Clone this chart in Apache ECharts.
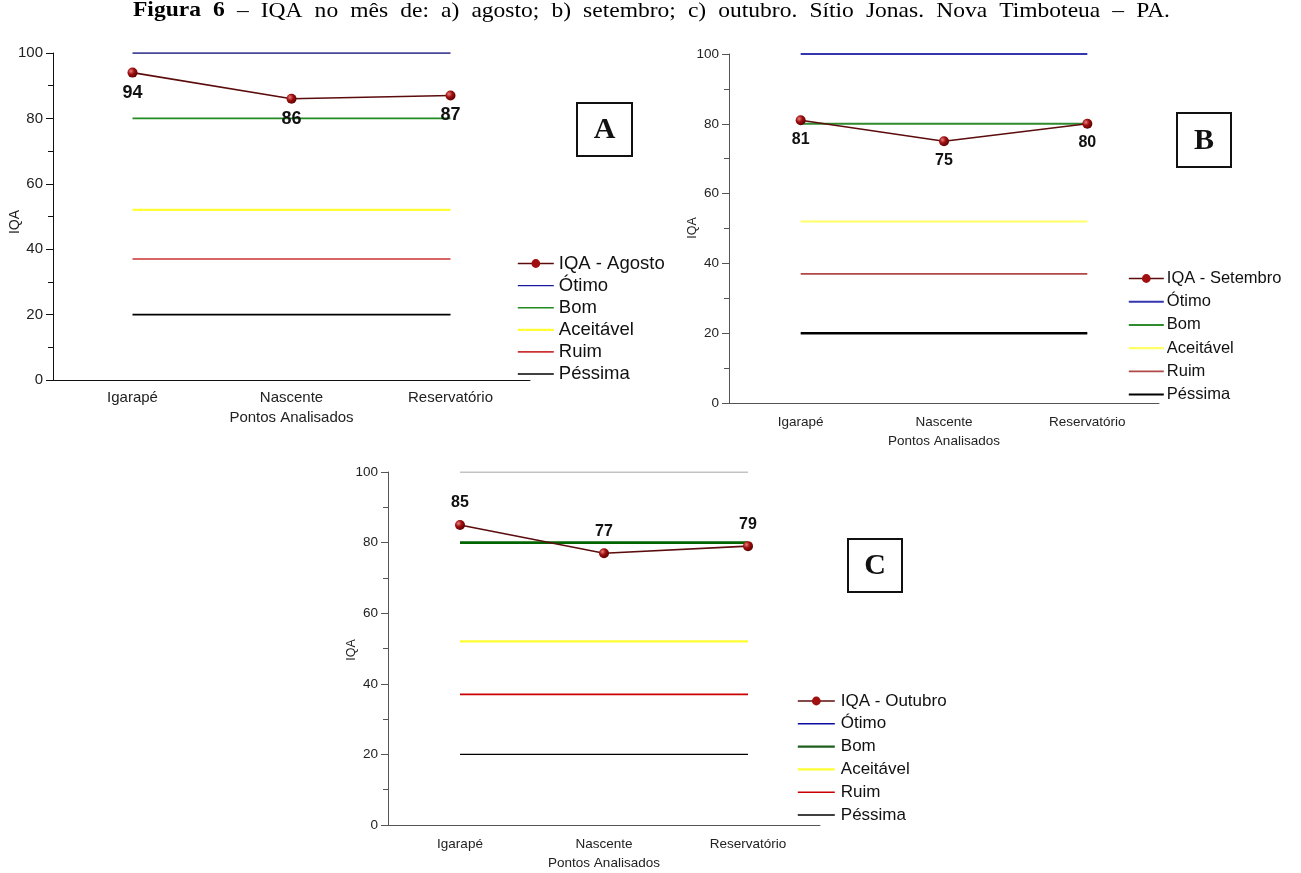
<!DOCTYPE html>
<html>
<head>
<meta charset="utf-8">
<script src="https://cdn.jsdelivr.net/npm/echarts@6/dist/echarts.min.js"></script>
<style>html,body{margin:0;padding:0;background:#fff}#c{width:1301px;height:873px}</style>
</head>
<body>
<div id="c"></div>
<script>
// ---- data ----
const categories = ['Igarapé', 'Nascente', 'Reservatório'];
const iqaAgosto = [94, 86, 87];
const iqaSetembro = [81, 75, 80];
const iqaOutubro = [85, 77, 79];
const classNames = ['Ótimo', 'Bom', 'Aceitável', 'Ruim', 'Péssima'];
const classLimits = [100, 80, 52, 37, 20];
const seriesNames = ['IQA - Agosto', 'IQA - Setembro', 'IQA - Outubro'];
const panelLetters = ['A', 'B', 'C'];
const yTicks = [0, 20, 40, 60, 80, 100];
const titleBold = 'Figura 6';
const titleRest = '– IQA no mês de: a) agosto; b) setembro; c) outubro. Sítio Jonas. Nova Timboteua – PA.';

// ---- styling per panel ----
const SANS = 'Liberation Sans, Arial, sans-serif';
const SERIF = 'Liberation Serif, Times New Roman, serif';
const panels = [
  { grid: {left: 53, top: 53, width: 477, height: 327}, values: iqaAgosto, labelPos: 'bottom', labelDist: 6, labelSize: 18,
    axisColor: '#111', yNameX: 15, yNameY: 222, xNameY: 418, fs: 15, xMargin: 10, yMargin: 10,
    lineColors: ['#0c0c78', '#228b22', '#ffff33', '#cc3333', '#000000'],
    legendColors: ['#1a1aa0', '#228b22', '#ffff33', '#cc3333', '#000000'],
    lineWidths: [1.3, 1.6, 2.2, 1.6, 1.6],
    legend: {left: 512, top: 249, gap: 3.1, fs: 18.5, iw: 36, tp: 0},
    box: {x: 577, y: 103, w: 55, h: 53} },
  { grid: {left: 729, top: 54, width: 430, height: 349}, values: iqaSetembro, labelPos: 'bottom', labelDist: 6, labelSize: 16,
    axisColor: '#555', yNameX: 693, yNameY: 228, xNameY: 441, fs: 13.5, xMargin: 12, yMargin: 10,
    lineColors: ['#3535b0', '#2e8b2e', '#ffff66', '#b04848', '#000000'],
    legendColors: ['#3535b0', '#2e8b2e', '#ffff66', '#b04848', '#000000'],
    lineWidths: [2, 2, 2.2, 1.8, 2.6],
    legend: {left: 1123, top: 265, gap: 6.2, fs: 16.5, iw: 35, tp: -2},
    box: {x: 1177, y: 113, w: 54, h: 54} },
  { grid: {left: 388, top: 472, width: 432, height: 353}, values: iqaOutubro, labelPos: 'top', labelDist: 9, labelSize: 16,
    axisColor: '#555', yNameX: 352, yNameY: 650, xNameY: 863, fs: 13.5, xMargin: 12, yMargin: 10,
    lineColors: ['#888888', '#006400', '#ffff33', '#cc0000', '#000000'],
    legendColors: ['#0a0aa0', '#1e5e1e', '#ffff33', '#cc0000', '#000000'],
    lineWidths: [1.2, 2.6, 2.2, 1.6, 1.4],
    legend: {left: 792, top: 687.5, gap: 5.8, fs: 17, iw: 37, tp: 1},
    box: {x: 848, y: 539, w: 54, h: 53} }
];

function barIcon(w, h) {
  return 'path://M0,0L' + w + ',0L' + w + ',' + h + 'L0,' + h + 'Z';
}

const grids = [], xAxes = [], yAxes = [], series = [], legends = [], graphics = [];
panels.forEach((p, i) => {
  grids.push(Object.assign({containLabel: false}, p.grid));
  xAxes.push({
    type: 'category', gridIndex: i, data: categories, boundaryGap: true,
    axisLine: {lineStyle: {color: p.axisColor, width: 1}},
    axisTick: {alignWithLabel: true, length: 7, lineStyle: {color: p.axisColor}},
    axisLabel: {color: '#222', fontFamily: SANS, fontSize: p.fs, margin: p.xMargin},
    splitLine: {show: false}
  });
  xAxes.push({
    type: 'category', gridIndex: i, data: categories, boundaryGap: true,
    axisLine: {show: false},
    axisTick: {length: 4, lineStyle: {color: p.axisColor}},
    axisLabel: {show: false}, splitLine: {show: false}
  });
  yAxes.push({
    type: 'value', gridIndex: i, min: yTicks[0], max: yTicks[yTicks.length - 1], interval: 20,
    axisLine: {show: true, lineStyle: {color: p.axisColor, width: 1}},
    axisTick: {show: true, length: 7, lineStyle: {color: p.axisColor}},
    minorTick: {show: true, splitNumber: 2, length: 5, lineStyle: {color: p.axisColor}},
    axisLabel: {color: '#222', fontFamily: SANS, fontSize: p.fs, margin: p.yMargin},
    splitLine: {show: false}, minorSplitLine: {show: false}
  });
  series.push({
    name: seriesNames[i], type: 'line', xAxisIndex: i * 2, yAxisIndex: i,
    data: p.values, z: 5,
    symbol: 'circle', symbolSize: 10,
    lineStyle: {color: '#5c0c0c', width: 1.6},
    itemStyle: {
      color: {type: 'radial', x: 0.35, y: 0.35, r: 0.7,
        colorStops: [{offset: 0, color: '#e88080'}, {offset: 0.45, color: '#a01010'}, {offset: 1, color: '#5a0000'}]},
      borderWidth: 0
    },
    label: {show: true, position: p.labelPos, distance: p.labelDist,
      fontFamily: SANS, fontSize: p.labelSize, fontWeight: 'bold', color: '#111'},
    emphasis: {disabled: true}
  });
  classNames.forEach((nm, k) => {
    series.push({
      name: nm, type: 'line', xAxisIndex: i * 2, yAxisIndex: i,
      data: categories.map(() => classLimits[k]),
      symbol: 'none', z: 3,
      lineStyle: {color: p.lineColors[k], width: p.lineWidths[k]},
      itemStyle: {color: p.legendColors[k]},
      emphasis: {disabled: true}
    });
  });
  legends.push({
    left: p.legend.left, top: p.legend.top, orient: 'vertical',
    itemWidth: p.legend.iw, itemHeight: 11, itemGap: p.legend.gap, selectedMode: false,
    textStyle: {fontFamily: SANS, fontSize: p.legend.fs, color: '#111', padding: [0, 0, 0, p.legend.tp]},
    data: [{name: seriesNames[i], itemStyle: {color: '#a01010'}, lineStyle: {color: '#5c0c0c', width: 1.6}}]
      .concat(classNames.map((nm, k) => ({
        name: nm,
        icon: barIcon(p.legend.iw, Math.max(1.4, Math.min(2.2, p.lineWidths[k]))),
        itemStyle: {color: p.legendColors[k]}
      })))
  });
  graphics.push({type: 'text', x: p.yNameX, y: p.yNameY, rotation: Math.PI / 2,
    style: {text: 'IQA', fontFamily: SANS, fontSize: p.fs - 1, fill: '#222', textAlign: 'center', textVerticalAlign: 'middle'}});
  graphics.push({type: 'text', x: p.grid.left + p.grid.width / 2, y: p.xNameY,
    style: {text: 'Pontos Analisados', fontFamily: SANS, fontSize: p.fs, fill: '#222', textAlign: 'center', textVerticalAlign: 'middle'}});
  graphics.push({type: 'rect', shape: {x: p.box.x, y: p.box.y, width: p.box.w, height: p.box.h},
    style: {fill: '#fff', stroke: '#111', lineWidth: 2}});
  graphics.push({type: 'text', x: p.box.x + p.box.w / 2, y: p.box.y + p.box.h / 2 + 1,
    style: {text: panelLetters[i], fontFamily: SERIF, fontSize: 30, fontWeight: 'bold', fill: '#111', textAlign: 'center', textVerticalAlign: 'middle'}});
});

// ---- justified, slightly widened title line ----
(function () {
  const fsz = 21, sx = 1.12;
  const left = 133, right = 1170, yMid = 11;
  const ctx = document.createElement('canvas').getContext('2d');
  const words = titleBold.split(' ').map(w => ({w, bold: true}))
    .concat(titleRest.split(' ').map(w => ({w, bold: false})));
  let total = 0;
  words.forEach(o => {
    ctx.font = (o.bold ? 'bold ' : '') + fsz + 'px "Liberation Serif"';
    o.width = ctx.measureText(o.w).width * sx;
    total += o.width;
  });
  const gap = (right - left - total) / (words.length - 1);
  let x = left;
  words.forEach(o => {
    graphics.push({type: 'text', x: x, y: yMid, scaleX: sx,
      style: {text: o.w, fontFamily: SERIF, fontSize: fsz, fontWeight: o.bold ? 'bold' : 'normal',
        fill: '#000', textAlign: 'left', textVerticalAlign: 'middle'}});
    x += o.width + gap;
  });
})();

const chart = echarts.init(document.getElementById('c'), null, {renderer: 'canvas'});
chart.setOption({
  animation: false,
  backgroundColor: '#fff',
  grid: grids, xAxis: xAxes, yAxis: yAxes, series: series, legend: legends, graphic: graphics
});
</script>
</body>
</html>
